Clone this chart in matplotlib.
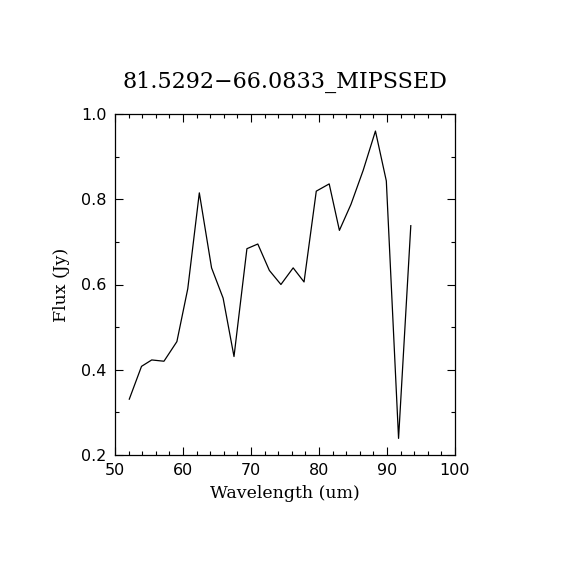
import matplotlib
matplotlib.use("Agg")
import matplotlib.pyplot as plt
from matplotlib.ticker import MultipleLocator

wavelength = [52.1, 53.9, 55.4, 57.2, 59.1, 60.7, 62.4, 64.2, 65.9, 67.5,
              69.4, 71.0, 72.7, 74.4, 76.2, 77.8, 79.6, 81.5, 83.0, 84.7,
              86.5, 88.3, 89.9, 91.7, 93.5]
flux = [0.331, 0.408, 0.423, 0.420, 0.466, 0.590, 0.815, 0.639, 0.568, 0.431,
        0.684, 0.695, 0.633, 0.600, 0.639, 0.606, 0.819, 0.836, 0.727, 0.788,
        0.868, 0.960, 0.843, 0.239, 0.738]

title = "81.5292\u221266.0833_MIPSSED"
xlabel = "Wavelength (um)"
ylabel = "Flux (Jy)"

fig = plt.figure(figsize=(5.7, 5.7), dpi=100)
ax = fig.add_axes([115/570, 1-455/570, 340/570, 341/570])
ax.plot(wavelength, flux, color="black", linewidth=0.9)
ax.set_xlim(50, 100)
ax.set_ylim(0.2, 1.0)
ax.xaxis.set_major_locator(MultipleLocator(10))
ax.xaxis.set_minor_locator(MultipleLocator(2))
ax.yaxis.set_major_locator(MultipleLocator(0.2))
ax.yaxis.set_minor_locator(MultipleLocator(0.1))
ax.yaxis.set_major_formatter(plt.FormatStrFormatter("%.1f"))
ax.tick_params(which="both", direction="in", top=True, right=True, width=0.8,
               colors="black")
ax.tick_params(which="major", length=6, labelsize=11.5, pad=6)
ax.tick_params(which="minor", length=3)
for lab in ax.get_xticklabels() + ax.get_yticklabels():
    lab.set_family("DejaVu Sans")
for s in ax.spines.values():
    s.set_linewidth(0.9)
ax.set_xlabel(xlabel, family="DejaVu Serif", fontsize=12.5, labelpad=5)
ax.set_ylabel(ylabel, family="DejaVu Serif", fontsize=12.5, labelpad=8)
fig.text(0.5, 1-82/570, title, ha="center", va="center", family="DejaVu Serif",
         fontsize=16)
fig.savefig("out.png", dpi=100)
